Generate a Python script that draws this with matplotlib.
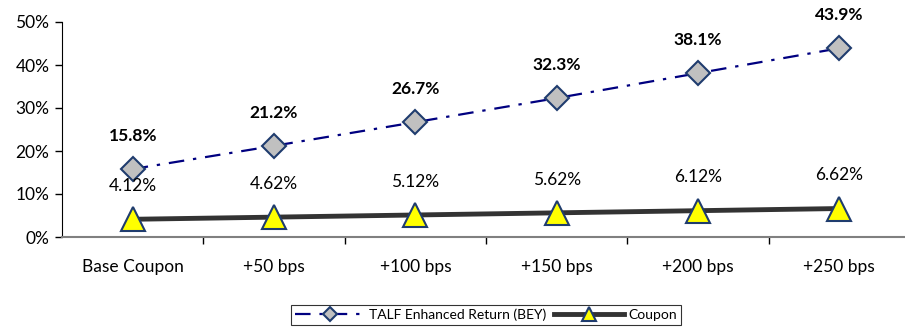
import matplotlib
matplotlib.use("Agg")
import matplotlib.pyplot as plt
from matplotlib.ticker import FuncFormatter, FixedLocator

plt.rcParams['font.family'] = ['Lato', 'DejaVu Sans']

categories = ["Base Coupon", "+50 bps", "+100 bps", "+150 bps", "+200 bps", "+250 bps"]
talf_return = [15.8, 21.2, 26.7, 32.3, 38.1, 43.9]
coupon = [4.12, 4.62, 5.12, 5.62, 6.12, 6.62]

fig = plt.figure(figsize=(9.05, 3.29), dpi=100)
ax = fig.add_axes([62 / 905, 1 - 237 / 329, (910 - 62) / 905, (237 - 22) / 329])

x = list(range(len(categories)))

ax.plot(x, talf_return, color="#000080", linestyle=(0, (7, 4, 1.5, 4)), linewidth=1.6,
        marker="D", markersize=12, markerfacecolor="#C0C0C0",
        markeredgecolor="#1F3C6E", markeredgewidth=1.5,
        label="TALF Enhanced Return (BEY)", zorder=3)
ax.plot(x, coupon, color="#333333", linewidth=3.5,
        marker="^", markersize=17, markerfacecolor="#FFFF00",
        markeredgecolor="#1F3C6E", markeredgewidth=1.5,
        label="Coupon", zorder=3)

for xi, v in zip(x, talf_return):
    ax.annotate(f"{v:.1f}%", (xi, v), xytext=(0, 24), textcoords="offset points",
                ha="center", va="center", fontsize=12.5, fontweight="bold")
for xi, v in zip(x, coupon):
    ax.annotate(f"{v:.2f}%", (xi, v), xytext=(0, 24), textcoords="offset points",
                ha="center", va="center", fontsize=12.5)

ax.set_xlim(-0.5, len(categories) - 0.5)
ax.set_ylim(0, 50)
ax.set_yticks([0, 10, 20, 30, 40, 50])
ax.yaxis.set_major_formatter(FuncFormatter(lambda v, p: f"{v:.0f}%"))
ax.set_xticks(x)
ax.set_xticklabels(categories)
ax.xaxis.set_minor_locator(FixedLocator([i + 0.5 for i in x[:-1]]))
ax.tick_params(axis="x", which="major", length=0, pad=16, labelsize=12.5)
ax.tick_params(axis="x", which="minor", length=5, width=1, color="#000000")
ax.tick_params(axis="y", length=5, width=1, labelsize=12.5, pad=4)

for s in ["top", "right"]:
    ax.spines[s].set_visible(False)
ax.spines["left"].set_color("#000000")
ax.spines["bottom"].set_color("#808080")
ax.spines["bottom"].set_linewidth(1.5)

leg = fig.legend(loc="center", bbox_to_anchor=(486 / 905, 1 - 315 / 329), ncol=2,
                 frameon=True, fancybox=False, edgecolor="#000000", fontsize=10,
                 handlelength=5, columnspacing=0.6, handletextpad=0.3,
                 borderpad=0.3, markerscale=0.6)
leg.get_frame().set_linewidth(0.8)

fig.savefig("out.png", dpi=100)
